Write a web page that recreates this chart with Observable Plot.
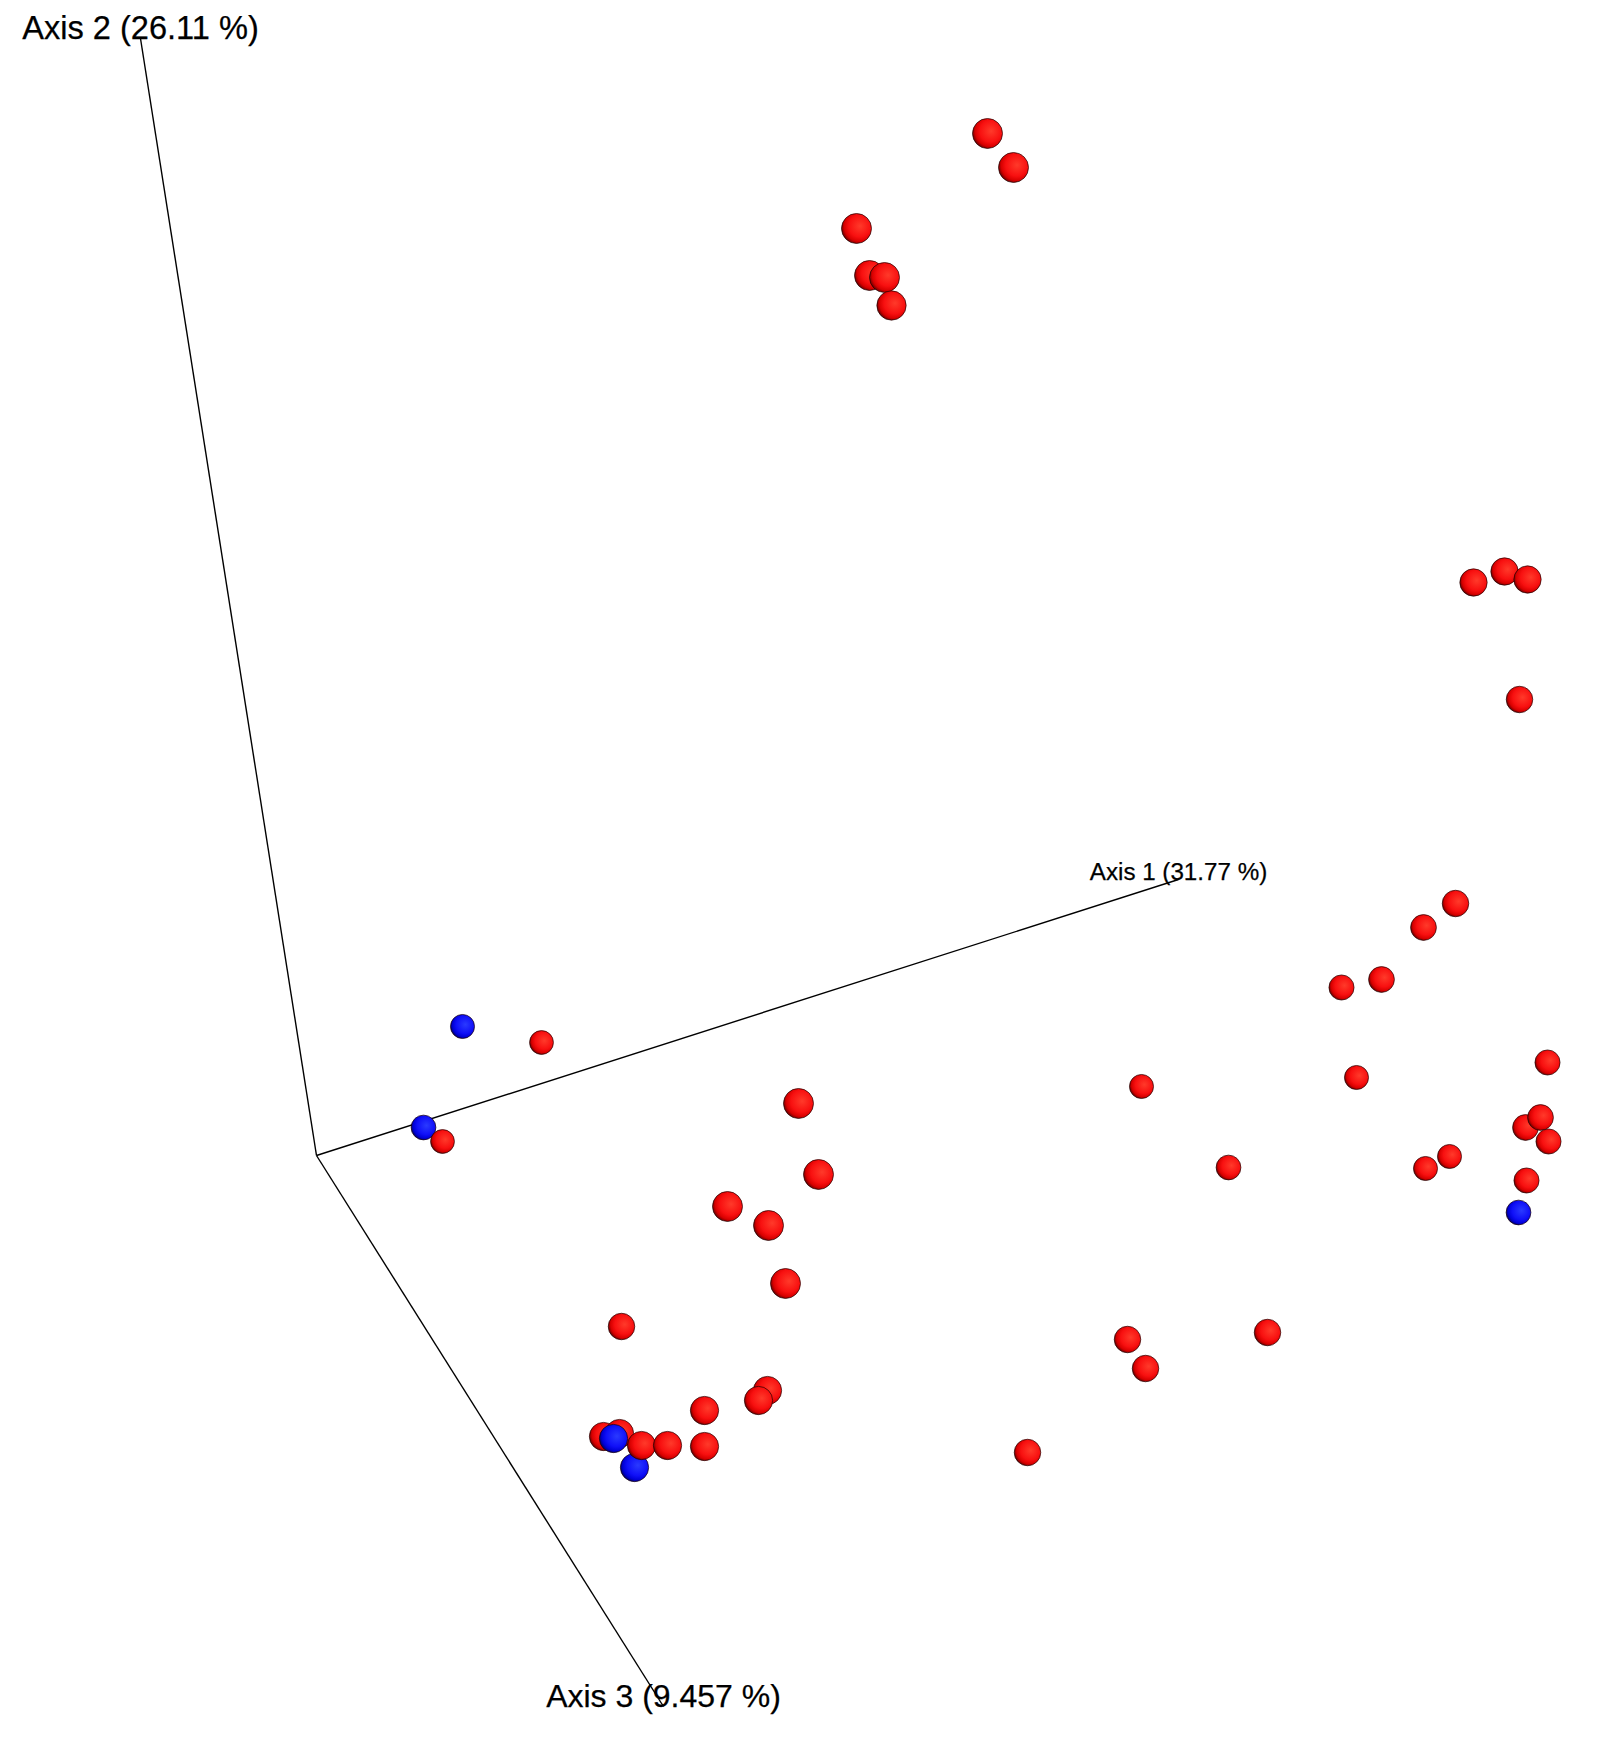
<!DOCTYPE html>
<html>
<head>
<meta charset="utf-8">
<script src="https://cdn.jsdelivr.net/npm/d3@7"></script>
<script src="https://cdn.jsdelivr.net/npm/@observablehq/plot@0.6"></script>
<style>
  html, body { margin: 0; padding: 0; background: #fff; }
  #chart svg { display: block; }
</style>
</head>
<body>
<div id="chart"></div>
<script>
// Projected PCoA coordinates (screen-plane units of the 3D view)
const sampleX = [987, 1013, 856, 869, 884, 891, 1473, 1504, 1527, 1519,
  1455, 1423, 1381, 1341, 1547, 1356, 1525, 1540, 1548, 1449,
  1425, 1526, 1141, 1228, 1127, 1145, 1267, 1027, 541, 423,
  442, 462, 798, 818, 727, 768, 785, 621, 767, 758,
  704, 704, 603, 619, 613, 634, 641, 667, 1518];
const sampleY = [133, 167, 228, 275, 277, 305, 582, 571, 579, 699,
  903, 927, 979, 987, 1062, 1077, 1127, 1117, 1141, 1156,
  1168, 1180, 1086, 1167, 1339, 1368, 1332, 1452, 1042, 1127,
  1141, 1026, 1103, 1174, 1206, 1225, 1283, 1326, 1390, 1400,
  1410, 1446, 1436, 1433, 1438, 1467, 1445, 1445, 1212];
// depth toward viewer (0 = far, 1 = near)
const sampleDepth = [1, 1, 1, 1, 1, 0.9, 0.62, 0.62, 0.62, 0.5,
  0.5, 0.4, 0.4, 0.3, 0.3, 0.15, 0.4, 0.4, 0.3, 0.15,
  0.15, 0.3, 0.15, 0.25, 0.5, 0.5, 0.5, 0.5, 0.12, 0.25,
  0.12, 0.15, 1, 1, 1, 1, 1, 0.5, 0.75, 0.75,
  0.75, 0.75, 0.75, 0.75, 0.75, 0.75, 0.75, 0.75, 0.25];
const sampleGroup = ["A", "A", "A", "A", "A", "A", "A", "A", "A", "A",
  "A", "A", "A", "A", "A", "A", "A", "A", "A", "A",
  "A", "A", "A", "A", "A", "A", "A", "A", "A", "B",
  "A", "B", "A", "A", "A", "A", "A", "A", "A", "A",
  "A", "A", "A", "A", "B", "B", "A", "A", "B"];

// Axes of the 3D view
const axisNames = ["Axis 1 (31.77 %)", "Axis 2 (26.11 %)", "Axis 3 (9.457 %)"];
const axisOriginX = [316, 316, 316];
const axisOriginY = [1155, 1155, 1155];
const axisEndX = [1178, 140, 663];
const axisEndY = [879, 38, 1706];
const axisLabelSize = [24.2, 32.6, 32];

const samples = sampleX.map((x, i) => ({x, y: sampleY[i], depth: sampleDepth[i], group: sampleGroup[i]}));
const axes = axisNames.map((name, i) => ({name, x1: axisOriginX[i], y1: axisOriginY[i], x2: axisEndX[i], y2: axisEndY[i], size: axisLabelSize[i]}));

const W = 1600, H = 1749;
const svg = Plot.plot({
  width: W,
  height: H,
  margin: 0,
  style: {background: "#fff", fontFamily: "'Liberation Sans', Arial, sans-serif"},
  x: {domain: [0, W], range: [0, W], axis: null},
  y: {domain: [0, H], range: [0, H], axis: null},
  r: {type: "linear", domain: [0, 1], range: [11.5, 15]},
  color: {type: "ordinal", domain: ["A", "B"], range: ["url(#sphereRed)", "url(#sphereBlue)"]},
  marks: [
    Plot.link(axes, {x1: "x1", y1: "y1", x2: "x2", y2: "y2", stroke: "#000", strokeWidth: 1.4}),
    Plot.dot(samples, {x: "x", y: "y", r: "depth", fill: "group", stroke: "#1a0000", strokeWidth: 0.8, strokeOpacity: 0.85, sort: null}),
    Plot.text(axes, {x: "x2", y: "y2", text: "name", fontSize: d => d.size, textAnchor: "middle", lineAnchor: "bottom", fill: "#000", stroke: "#000", strokeWidth: 0.25})
  ]
});

const ns = "http://www.w3.org/2000/svg";
const defs = document.createElementNS(ns, "defs");
function grad(id, stops) {
  const g = document.createElementNS(ns, "radialGradient");
  g.setAttribute("id", id);
  g.setAttribute("cx", "0.6");
  g.setAttribute("cy", "0.42");
  g.setAttribute("r", "0.66");
  g.setAttribute("fx", "0.62");
  g.setAttribute("fy", "0.42");
  for (const [o, c] of stops) {
    const s = document.createElementNS(ns, "stop");
    s.setAttribute("offset", o);
    s.setAttribute("stop-color", c);
    g.appendChild(s);
  }
  defs.appendChild(g);
}
grad("sphereRed", [[0, "#ff3a2a"], [0.55, "#f81010"], [0.78, "#d80000"], [0.91, "#800000"], [1, "#3a0000"]]);
grad("sphereBlue", [[0, "#2a3aff"], [0.55, "#1010f8"], [0.78, "#0000d8"], [0.91, "#000080"], [1, "#00003a"]]);
svg.insertBefore(defs, svg.firstChild);

document.getElementById("chart").appendChild(svg);
</script>
</body>
</html>
